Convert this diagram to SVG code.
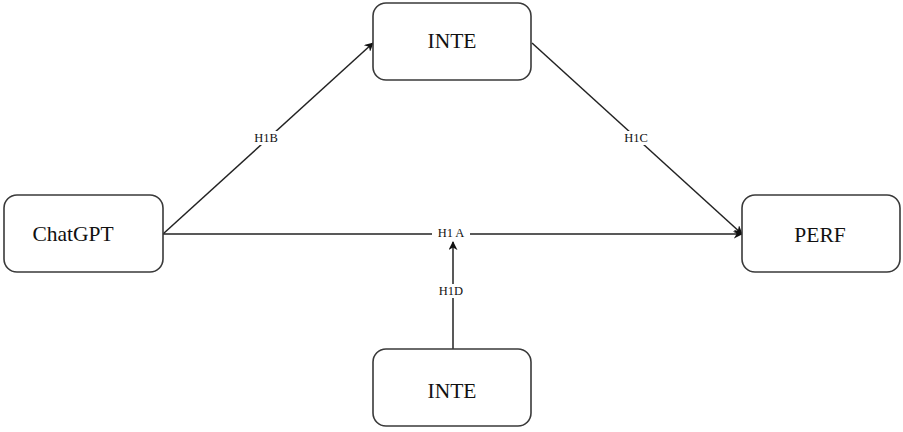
<svg xmlns="http://www.w3.org/2000/svg" width="903" height="432" viewBox="0 0 903 432">
<style>
.node rect{fill:#fff;stroke:#3a3a3a;stroke-width:1.6}
.node text{font-family:"Liberation Serif",serif;font-size:21.5px;fill:#111;text-anchor:middle;dominant-baseline:central}
.edge{stroke:#222;stroke-width:1.5;fill:none}
.lbl{font-family:"Liberation Serif",serif;font-size:12.5px;fill:#111;text-anchor:middle;dominant-baseline:central}
.bg{fill:#fff}
</style>
<defs>
<marker id="arr" viewBox="0 0 10 10" refX="9" refY="5" markerWidth="9" markerHeight="9" markerUnits="userSpaceOnUse" orient="auto">
<path d="M0,0 L10,5 L0,10 L3,5 Z" fill="#111"/>
</marker>
</defs>
<rect width="903" height="432" fill="#fff"/>
<g id="connectors">
<line class="edge" x1="163" y1="234" x2="373" y2="43" marker-end="url(#arr)"/>
<line class="edge" x1="532" y1="43" x2="742" y2="234" marker-end="url(#arr)"/>
<line class="edge" x1="163" y1="234" x2="742" y2="234" marker-end="url(#arr)"/>
<line class="edge" x1="453" y1="349" x2="453" y2="242" marker-end="url(#arr)"/>
<rect class="bg" x="252" y="131" width="28" height="14"/>
<text class="lbl" x="266" y="138">H1B</text>
<rect class="bg" x="622" y="131" width="28" height="14"/>
<text class="lbl" x="636" y="138">H1C</text>
<rect class="bg" x="432" y="226" width="38" height="13"/>
<text class="lbl" x="451" y="233">H1 A</text>
<rect class="bg" x="437" y="284" width="28" height="14"/>
<text class="lbl" x="451" y="291">H1D</text>
</g>
<g id="inte-top" class="node"><rect x="373" y="3" width="158" height="77" rx="13"/><text x="452" y="41">INTE</text></g>
<g id="chatgpt" class="node"><rect x="4" y="195" width="159" height="77" rx="13"/><text x="73" y="234">ChatGPT</text></g>
<g id="perf" class="node"><rect x="742" y="195" width="158" height="77" rx="13"/><text x="820" y="235">PERF</text></g>
<g id="inte-bottom" class="node"><rect x="373" y="349" width="158" height="77" rx="13"/><text x="452" y="391">INTE</text></g>
</svg>
